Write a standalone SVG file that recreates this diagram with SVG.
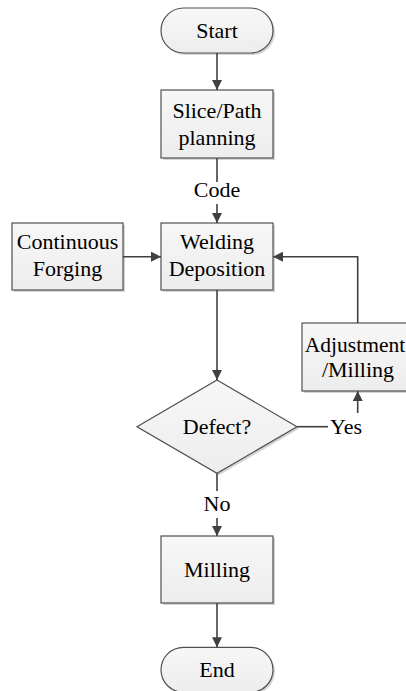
<svg xmlns="http://www.w3.org/2000/svg" width="406" height="691" viewBox="0 0 406 691">
<defs>
<linearGradient id="g" x1="0" y1="0" x2="0" y2="1">
<stop offset="0" stop-color="#f7f7f7"/>
<stop offset="1" stop-color="#ededed"/>
</linearGradient>
<marker id="a" markerWidth="10" markerHeight="10" viewBox="0 0 10 10" refX="10" refY="5" orient="auto" markerUnits="userSpaceOnUse">
<path d="M0,0 L10,5 L0,10 z" fill="#404040"/>
</marker>
</defs>
<style>
.s{fill:url(#g);stroke:#505050;stroke-width:1.2}
.sh{fill:#d4d4d4;stroke:none}
text{font-family:'Liberation Serif',Tinos,'Times New Roman',Times,'Noto Serif','DejaVu Serif',serif;font-size:22px;fill:#000;text-anchor:middle}
.c{fill:none;stroke:#404040;stroke-width:1.6}
</style>
<rect width="406" height="691" fill="#fff"/>
<g id="start">
<rect class="sh" x="163" y="10" width="112" height="45" rx="22.5"/>
<rect class="s" x="161" y="8" width="112" height="45" rx="22.5"/>
<text x="217" y="38">Start</text>
</g>
<g id="slice">
<rect class="sh" x="163" y="92" width="112" height="68"/>
<rect class="s" x="161" y="90" width="112" height="68"/>
<text x="217" y="118">Slice/Path</text>
<text x="217" y="145">planning</text>
</g>
<g id="forging">
<rect class="sh" x="14" y="225" width="111" height="67"/>
<rect class="s" x="12" y="223" width="111" height="67"/>
<text x="67.5" y="249">Continuous</text>
<text x="67.5" y="276">Forging</text>
</g>
<g id="welding">
<rect class="sh" x="163" y="225" width="112" height="67"/>
<rect class="s" x="161" y="223" width="112" height="67"/>
<text x="217" y="249">Welding</text>
<text x="217" y="276">Deposition</text>
</g>
<g id="adjust">
<rect class="sh" x="304" y="325" width="112" height="68"/>
<rect class="s" x="302" y="323" width="112" height="68"/>
<text x="355" y="352" style="font-size:21.5px">Adjustment</text>
<text x="358" y="377">/Milling</text>
</g>
<g id="defect">
<path class="sh" d="M219,382 L299,428.7 L219,475.3 L139,428.7 z"/>
<path class="s" d="M217,380 L297,426.7 L217,473.3 L137,426.7 z"/>
<text x="217" y="434">Defect?</text>
</g>
<g id="milling">
<rect class="sh" x="163" y="538" width="112" height="67"/>
<rect class="s" x="161" y="536" width="112" height="67"/>
<text x="217" y="577">Milling</text>
</g>
<g id="end">
<rect class="sh" x="163" y="649" width="112" height="45" rx="22.5"/>
<rect class="s" x="161" y="647.3" width="112" height="45" rx="22.5"/>
<text x="217" y="677">End</text>
</g>
<g id="connectors">
<line class="c" x1="217" y1="53" x2="217" y2="90" marker-end="url(#a)"/>
<line class="c" x1="217" y1="158" x2="217" y2="182"/>
<text x="217" y="197">Code</text>
<line class="c" x1="217" y1="204" x2="217" y2="223" marker-end="url(#a)"/>
<line class="c" x1="123" y1="256.7" x2="161" y2="256.7" marker-end="url(#a)"/>
<line class="c" x1="217" y1="290" x2="217" y2="380" marker-end="url(#a)"/>
<polyline class="c" points="357.7,323 357.7,256.7 273,256.7" marker-end="url(#a)"/>
<line class="c" x1="297" y1="426.7" x2="328" y2="426.7"/>
<text x="346" y="434">Yes</text>
<line class="c" x1="357.7" y1="413" x2="357.7" y2="391" marker-end="url(#a)"/>
<line class="c" x1="217" y1="473.3" x2="217" y2="491"/>
<text x="217" y="511">No</text>
<line class="c" x1="217" y1="518" x2="217" y2="536" marker-end="url(#a)"/>
<line class="c" x1="217" y1="603" x2="217" y2="647.3" marker-end="url(#a)"/>
</g>
</svg>
